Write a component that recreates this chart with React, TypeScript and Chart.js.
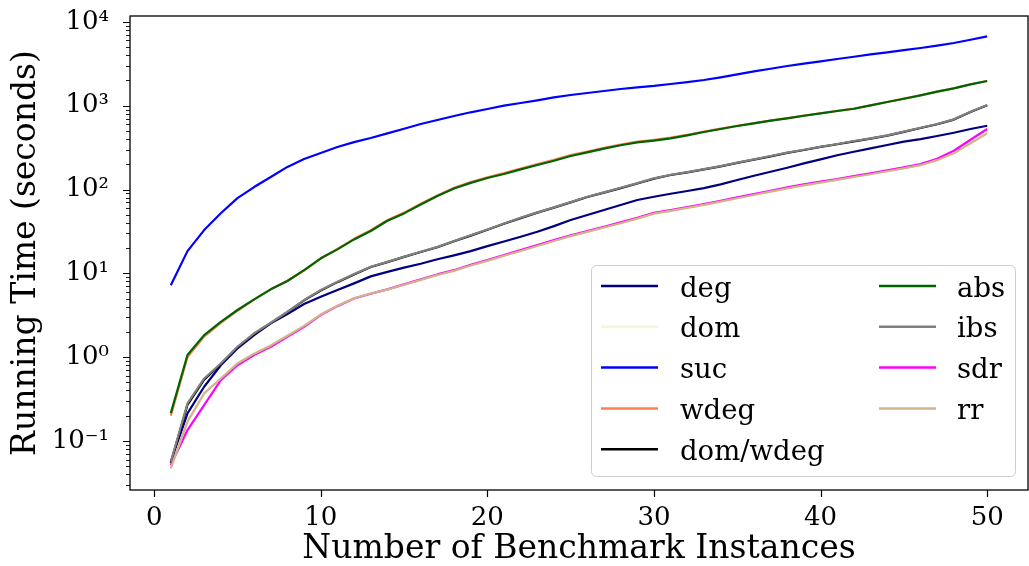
import React, { useEffect, useRef } from 'react';
import { Chart, registerables } from 'chart.js';

Chart.register(...registerables);

// ---------- data ----------
const INSTANCES = [1, 2, 3, 4, 5, 6, 7, 8, 9, 10, 11, 12, 13, 14, 15, 16, 17, 18, 19, 20, 21, 22, 23, 24, 25, 26, 27, 28, 29, 30, 31, 32, 33, 34, 35, 36, 37, 38, 39, 40, 41, 42, 43, 44, 45, 46, 47, 48, 49, 50];

const deg = [0.055, 0.213, 0.443, 0.8, 1.27, 1.83, 2.53, 3.26, 4.3, 5.26, 6.31, 7.59, 9.2, 10.4, 11.7, 13.0, 14.7, 16.4, 18.4, 21.1, 24.0, 27.3, 31.3, 36.6, 43.2, 49.6, 56.9, 65.3, 74.9, 82.0, 89, 96, 104, 115, 130, 146, 163, 182, 205, 229, 256, 282, 310, 340, 372, 400, 435, 476, 527, 577];
const dom = [0.048, 0.172, 0.372, 0.562, 0.85, 1.11, 1.39, 1.82, 2.38, 3.25, 4.13, 5.08, 5.8, 6.45, 7.35, 8.4, 9.6, 10.8, 12.5, 14.2, 16.3, 18.6, 21.4, 24.5, 28.0, 31.4, 35.5, 39.9, 45.3, 51.9, 55.9, 60.8, 66.0, 72.2, 79.3, 86.8, 95.0, 104, 113, 122, 131, 142, 153, 166, 181, 197, 226, 273, 360, 474];
const suc = [7.2, 18.4, 32.8, 52, 79, 107, 141, 186, 231, 272, 321, 368, 412, 468, 531, 604, 675, 753, 834, 912, 1000, 1076, 1159, 1259, 1341, 1416, 1496, 1581, 1656, 1720, 1814, 1914, 2024, 2178, 2366, 2570, 2761, 2974, 3170, 3380, 3605, 3837, 4100, 4335, 4610, 4875, 5200, 5600, 6120, 6710];
const wdeg = [0.2, 1.0, 1.76, 2.56, 3.58, 4.85, 6.45, 8.15, 10.8, 15.0, 19.5, 25.8, 32.6, 43.0, 53.0, 67.5, 85.0, 105, 123, 140, 157, 178, 201, 226, 258, 284, 314, 344, 372, 391, 415, 450, 490, 532, 576, 620, 665, 710, 762, 813, 866, 922, 1010, 1108, 1213, 1332, 1472, 1615, 1802, 1972];
const domWdeg = [0.055, 0.27, 0.54, 0.83, 1.31, 1.9, 2.55, 3.45, 4.75, 6.25, 7.85, 9.7, 11.9, 13.6, 15.7, 18.0, 20.5, 24.1, 28.2, 33.1, 39.0, 45.6, 53.0, 60.8, 70.3, 81.4, 91.8, 104, 118, 135, 149, 160, 174, 189, 208, 227, 249, 273, 296, 322, 347, 376, 405, 440, 487, 542, 600, 682, 840, 1010];
const abs = [0.215, 1.06, 1.83, 2.64, 3.65, 4.89, 6.44, 8.09, 10.9, 15.1, 19.3, 25.4, 32.0, 42.4, 51.9, 66.4, 83.5, 103, 120, 137, 153, 174, 196, 220, 251, 277, 307, 337, 365, 383, 408, 443, 485, 527, 572, 615, 662, 706, 759, 811, 864, 920, 1009, 1106, 1211, 1330, 1469, 1611, 1799, 1968];
const ibs = [0.0565, 0.28, 0.557, 0.841, 1.33, 1.92, 2.57, 3.48, 4.8, 6.31, 7.94, 9.8, 12.0, 13.7, 15.8, 18.1, 20.7, 24.3, 28.4, 33.4, 39.4, 46.0, 53.4, 61.2, 70.8, 82.0, 92.5, 105, 119, 136, 150, 161, 175, 190, 209, 229, 251, 275, 298, 324, 349, 379, 408, 443, 490, 546, 604, 687, 847, 1019];
const sdr = [0.0515, 0.135, 0.268, 0.532, 0.8, 1.06, 1.33, 1.75, 2.3, 3.18, 4.06, 5.0, 5.7, 6.43, 7.38, 8.47, 9.7, 10.9, 12.6, 14.4, 16.5, 18.9, 21.7, 24.9, 28.4, 31.9, 36.0, 40.5, 46.0, 52.8, 56.9, 61.8, 67.1, 73.5, 80.7, 88.3, 96.6, 106, 115, 124, 133, 145, 156, 169, 184, 201, 233, 290, 392, 527];
const rr = [0.047, 0.17, 0.369, 0.557, 0.84, 1.1, 1.38, 1.8, 2.36, 3.22, 4.1, 5.05, 5.75, 6.4, 7.3, 8.35, 9.55, 10.7, 12.4, 14.1, 16.2, 18.5, 21.2, 24.3, 27.8, 31.2, 35.2, 39.6, 45.0, 51.5, 55.5, 60.3, 65.5, 71.7, 78.7, 86.1, 94.2, 103, 112, 121, 130, 141, 152, 165, 179, 195, 224, 270, 356, 468];

const SERIES_NAMES = ['deg', 'dom', 'suc', 'wdeg', 'dom/wdeg', 'abs', 'ibs', 'sdr', 'rr'];
const SERIES_VALUES = [deg, dom, suc, wdeg, domWdeg, abs, ibs, sdr, rr];
const SERIES_COLORS = ['#000080', '#f5f5dc', '#0000ff', '#ff7f50', '#000000', '#006400', '#808080', '#ff00ff', '#d2b48c'];

const X_TICKS = [0, 10, 20, 30, 40, 50];
const Y_TICKS = [0.1, 1, 10, 100, 1000, 10000];
const Y_TICK_LABELS = ['10\u207B\u00B9', '10\u2070', '10\u00B9', '10\u00B2', '10\u00B3', '10\u2074'];

const X_TITLE = 'Number of Benchmark Instances';
const Y_TITLE = 'Running Time (seconds)';

const FONT = "'DejaVu Serif', serif";
const LINE_W = 2.2;

const decorPlugin = {
  id: 'decor',
  afterDatasetsDraw(chart: any) {
    const ctx = chart.ctx;
    const { left, right, top, bottom } = chart.chartArea;
    const xs = chart.scales.x;
    const ys = chart.scales.y;
    ctx.save();
    // spines
    ctx.strokeStyle = '#000';
    ctx.lineWidth = 1.3;
    ctx.strokeRect(left, top, right - left, bottom - top);
    // x ticks
    ctx.lineWidth = 1.2;
    ctx.beginPath();
    X_TICKS.forEach((v) => {
      const px = Math.round(xs.getPixelForValue(v)) + 0.5;
      ctx.moveTo(px, bottom);
      ctx.lineTo(px, bottom + 7);
    });
    ctx.stroke();
    // y major ticks
    ctx.beginPath();
    Y_TICKS.forEach((v) => {
      const py = Math.round(ys.getPixelForValue(v)) + 0.5;
      ctx.moveTo(left - 7, py);
      ctx.lineTo(left, py);
    });
    ctx.stroke();
    // y minor ticks
    ctx.lineWidth = 0.9;
    ctx.beginPath();
    for (let e = -2; e <= 4; e++) {
      for (let k = 2; k <= 9; k++) {
        const v = k * Math.pow(10, e);
        if (v < ys.min || v > ys.max) continue;
        const py = Math.round(ys.getPixelForValue(v)) + 0.5;
        ctx.moveTo(left - 4, py);
        ctx.lineTo(left, py);
      }
    }
    ctx.stroke();

    // axis titles
    ctx.fillStyle = '#000';
    ctx.font = `33px ${FONT}`;
    ctx.textAlign = 'center';
    ctx.textBaseline = 'alphabetic';
    ctx.fillText(X_TITLE, (left + right) / 2, 558);
    ctx.save();
    ctx.translate(35, (top + bottom) / 2);
    ctx.rotate(-Math.PI / 2);
    ctx.fillText(Y_TITLE, 0, 0);
    ctx.restore();

    // legend
    const bx = 591.5, by = 265.5, bw = 424, bh = 211, r = 5;
    ctx.beginPath();
    ctx.moveTo(bx + r, by);
    ctx.lineTo(bx + bw - r, by);
    ctx.arcTo(bx + bw, by, bx + bw, by + r, r);
    ctx.lineTo(bx + bw, by + bh - r);
    ctx.arcTo(bx + bw, by + bh, bx + bw - r, by + bh, r);
    ctx.lineTo(bx + r, by + bh);
    ctx.arcTo(bx, by + bh, bx, by + bh - r, r);
    ctx.lineTo(bx, by + r);
    ctx.arcTo(bx, by, bx + r, by, r);
    ctx.closePath();
    ctx.fillStyle = 'rgba(255,255,255,0.8)';
    ctx.fill();
    ctx.strokeStyle = '#cccccc';
    ctx.lineWidth = 1;
    ctx.stroke();

    ctx.font = `27.5px ${FONT}`;
    ctx.textAlign = 'left';
    ctx.textBaseline = 'alphabetic';
    SERIES_NAMES.forEach((name, i) => {
      const col = i < 5 ? 0 : 1;
      const row = col === 0 ? i : i - 5;
      const ly = 286 + row * 40.8;
      const lx0 = col === 0 ? 601 : 879;
      const tx = col === 0 ? 680 : 957;
      ctx.strokeStyle = SERIES_COLORS[i];
      ctx.lineWidth = LINE_W + 0.3;
      ctx.beginPath();
      ctx.moveTo(lx0, ly);
      ctx.lineTo(lx0 + 57, ly);
      ctx.stroke();
      ctx.fillStyle = '#000';
      ctx.fillText(name, tx, ly + 10.5);
    });
    ctx.restore();
  },
};

export default function App() {
  const ref = useRef<HTMLCanvasElement | null>(null);
  useEffect(() => {
    if (!ref.current) return;
    Chart.defaults.font.family = FONT;
    const n = SERIES_NAMES.length;
    const chart = new Chart(ref.current, {
      type: 'line',
      data: {
        datasets: SERIES_NAMES.map((name, i) => ({
          label: name,
          data: INSTANCES.map((x, j) => ({ x, y: SERIES_VALUES[i][j] })),
          borderColor: SERIES_COLORS[i],
          backgroundColor: SERIES_COLORS[i],
          borderWidth: LINE_W,
          pointRadius: 0,
          pointHoverRadius: 0,
          tension: 0,
          fill: false,
          borderJoinStyle: 'round',
          order: n - i,
        })),
      },
      options: {
        animation: false,
        responsive: false,
        devicePixelRatio: 1,
        layout: { padding: { left: 0, right: 1, top: 16, bottom: 0 } },
        plugins: { legend: { display: false }, tooltip: { enabled: false } },
        events: [],
        scales: {
          x: {
            type: 'linear',
            min: -1.45,
            max: 52.45,
            grid: { display: false },
            border: { display: false },
            ticks: {
              font: { family: FONT, size: 26 },
              color: '#000',
              padding: 5,
              autoSkip: false,
              maxRotation: 0,
              callback: (v: any) => String(v),
            },
            afterBuildTicks: (scale: any) => {
              scale.ticks = X_TICKS.map((v) => ({ value: v }));
            },
            afterFit: (scale: any) => {
              scale.height = 76;
              scale.paddingLeft = 0;
              scale.paddingRight = 0;
              scale.paddingTop = 0;
              scale.paddingBottom = 0;
            },
          },
          y: {
            type: 'logarithmic',
            min: 0.026,
            max: 11750,
            grid: { display: false },
            border: { display: false },
            ticks: {
              font: { family: FONT, size: 26 },
              color: '#000',
              padding: 13,
              autoSkip: false,
              callback: (_v: any, idx: number) => Y_TICK_LABELS[idx],
            },
            afterBuildTicks: (scale: any) => {
              scale.ticks = Y_TICKS.map((v) => ({ value: v }));
            },
            afterFit: (scale: any) => {
              scale.width = 130;
              scale.paddingLeft = 0;
              scale.paddingRight = 0;
              scale.paddingTop = 0;
              scale.paddingBottom = 0;
            },
          },
        },
      },
      plugins: [decorPlugin],
    });
    return () => chart.destroy();
  }, []);
  return (
    <div style={{ position: 'fixed', left: 0, top: 0, width: 1029, height: 566, background: '#fff' }}>
      <canvas ref={ref} width={1029} height={566} style={{ display: 'block' }} />
    </div>
  );
}
